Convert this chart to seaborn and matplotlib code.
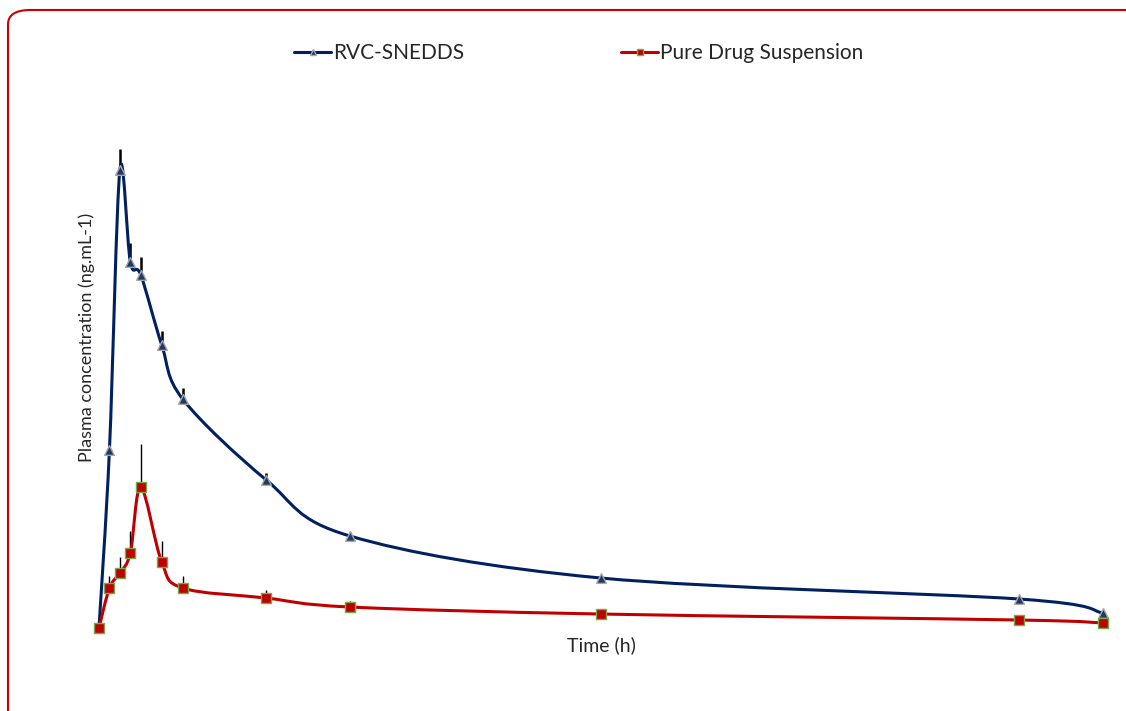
import numpy as np
import pandas as pd
import matplotlib
matplotlib.use("Agg")
import matplotlib.pyplot as plt
import seaborn as sns
from matplotlib.path import Path
from matplotlib.patches import PathPatch, FancyBboxPatch
from matplotlib.lines import Line2D

# sampling times (h)
time_h = [0, 0.5, 1, 1.5, 2, 3, 4, 8, 12, 24, 44, 48]

# plasma concentration (ng/mL)
snedds = [0, 356, 916, 732, 706, 566, 458, 296, 184, 100, 58, 30]
snedds_sd = [0, 0, 42, 38, 36, 28, 22, 14, 8, 4, 2, 2]
suspension = [0, 80, 110, 150, 282, 132, 80, 60, 42, 28, 16, 10]
suspension_sd = [0, 24, 32, 44, 86, 42, 24, 16, 12, 6, 2, 2]

labels = ["RVC-SNEDDS", "Pure Drug Suspension"]

df = pd.DataFrame({
    "time": time_h * 2,
    "conc": snedds + suspension,
    "sd": snedds_sd + suspension_sd,
    "group": [labels[0]] * len(time_h) + [labels[1]] * len(time_h),
})

sns.set_style("white")
plt.rcParams["font.family"] = ["Lato", "DejaVu Sans"]

line_col = {labels[0]: "#002060", labels[1]: "#C00000"}
mk = {labels[0]: "^", labels[1]: "s"}
mk_face = {labels[0]: "#1F3864", labels[1]: "#C00000"}
mk_edge = {labels[0]: "#A6A6A6", labels[1]: "#70AD47"}
mk_size = {labels[0]: 7, labels[1]: 7.5}
err_lw = {labels[0]: 1.8, labels[1]: 1.0}


def smooth_path(x, y):
    # Catmull-Rom style bezier, like a spreadsheet "smoothed line"
    pts = np.column_stack([x, y]).astype(float)
    n = len(pts)
    verts = [pts[0]]
    codes = [Path.MOVETO]
    for i in range(n - 1):
        p0 = pts[i - 1] if i > 0 else pts[i]
        p1 = pts[i]
        p2 = pts[i + 1]
        p3 = pts[i + 2] if i + 2 < n else pts[i + 1]
        c1 = p1 + (p2 - p0) / 6
        c2 = p2 - (p3 - p1) / 6
        verts += [c1, c2, p2]
        codes += [Path.CURVE4] * 3
    return Path(verts, codes)


fig = plt.figure(figsize=(11.26, 7.11), dpi=100)
ax = fig.add_axes([0.0879, 0.1167, 0.8917, 0.8186])

for g in labels:
    d = df[df["group"] == g]
    ax.errorbar(d["time"], d["conc"], yerr=[np.zeros(len(d)), d["sd"]],
                fmt="none", ecolor="black", elinewidth=err_lw[g], capsize=0, zorder=1)
    ax.add_patch(PathPatch(smooth_path(d["time"], d["conc"]), fill=False,
                           edgecolor=line_col[g], linewidth=2.2, zorder=2,
                           clip_on=False))
    sns.scatterplot(data=d, x="time", y="conc", marker=mk[g], s=mk_size[g] ** 2,
                    color=mk_face[g], edgecolor=mk_edge[g], linewidth=1,
                    ax=ax, zorder=3, legend=False, clip_on=False)

ax.set_xlim(0, 48)
ax.set_ylim(0, 1164)
ax.set_xticks([])
ax.set_yticks([])
for s in ax.spines.values():
    s.set_visible(False)
ax.set_xlabel("Time (h)", fontsize=14, labelpad=6)
ax.set_ylabel("Plasma concentration (ng.mL-1)", fontsize=13, labelpad=3)

handles = [Line2D([0], [0], color=line_col[g], lw=2.2, marker=mk[g],
                  markersize=5, markerfacecolor=mk_face[g], markeredgecolor=mk_edge[g])
           for g in labels]
fig.legend(handles, labels, loc="center", bbox_to_anchor=(0.514, 0.925), ncol=2,
           frameon=False, fontsize=15, handlelength=1.8, handletextpad=0.1,
           columnspacing=7.5)

border = FancyBboxPatch((8 / 1126, -0.05), 1.1, 1 - 10 / 711 + 0.05,
                        boxstyle="round,pad=0,rounding_size=0.02",
                        transform=fig.transFigure, fill=False,
                        edgecolor="#CC0000", linewidth=1.5, clip_on=False)
fig.patches.append(border)

fig.savefig("out.png", dpi=100)
